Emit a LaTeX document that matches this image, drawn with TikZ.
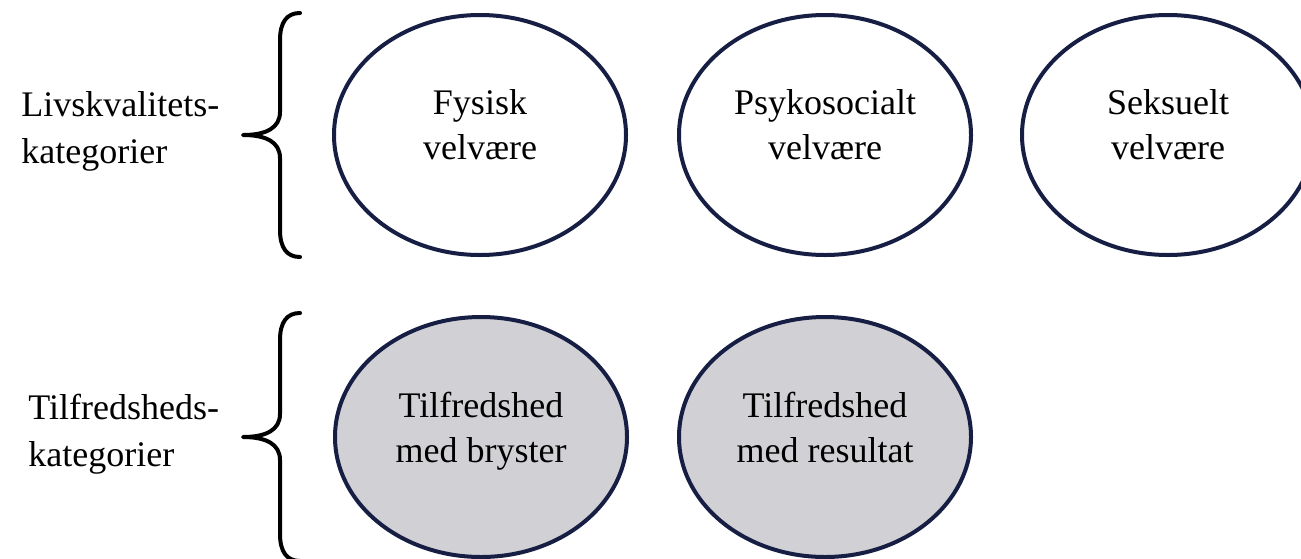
\documentclass[tikz,border=0pt]{standalone}
\usepackage{fontspec}
\setmainfont{Liberation Serif}
\usetikzlibrary{shapes.geometric}
\definecolor{navy}{RGB}{22,30,68}
\definecolor{softgray}{RGB}{209,209,213}
\tikzset{
  catbox/.style={ellipse, draw=navy, line width=2pt, minimum width=146pt, minimum height=120pt, inner sep=0pt, align=center, font=\fontsize{18}{22.5}\selectfont,
    execute at begin node={\strut}, execute at end node={\rule[-10pt]{0pt}{1pt}}},
  whitecat/.style={catbox, fill=white},
  graycat/.style={catbox, fill=softgray},
  sidelabel/.style={align=left, anchor=west, inner sep=0pt, font=\fontsize{18}{23.5}\selectfont},
  bracepath/.style={draw=black, line width=2pt, line cap=round, line join=round}
}
\begin{document}
\begin{tikzpicture}[x=0.5pt, y=-0.5pt]
\useasboundingbox (0,0) rectangle (1301,558);
\fill[white] (0,0) rectangle (1301,558);
% labels
\node[sidelabel] (lq) at (21,131) {Livskvalitets-\\kategorier};
\node[sidelabel] (tf) at (28,434) {Tilfredsheds-\\kategorier};
% braces
\draw[bracepath] (300,13) .. controls (287,13) and (280,22) .. (280,40) -- (280,112)
  .. controls (280,128) and (266,135) .. (243,135)
  .. controls (266,135) and (280,142) .. (280,158) -- (280,230)
  .. controls (280,248) and (287,257) .. (300,257);
\draw[bracepath] (300,313) .. controls (287,313) and (280,322) .. (280,340) -- (280,414)
  .. controls (280,430) and (266,437) .. (243,437)
  .. controls (266,437) and (280,444) .. (280,460) -- (280,534)
  .. controls (280,552) and (287,561) .. (300,561);
% ellipses
\node[whitecat] (fys) at (480,135) {Fysisk\\velvære};
\node[whitecat] (psy) at (825,135) {Psykosocialt\\velvære};
\node[whitecat] (sek) at (1168,135) {Seksuelt\\velvære};
\node[graycat] (bry) at (481,437) {Tilfredshed\\med bryster};
\node[graycat] (res) at (825,437) {Tilfredshed\\med resultat};
\end{tikzpicture}
\end{document}
